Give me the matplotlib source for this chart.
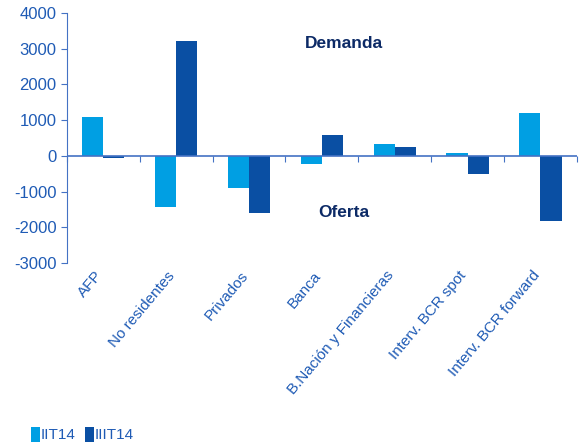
import numpy as np
import matplotlib.pyplot as plt
from matplotlib.transforms import ScaledTranslation

plt.rcParams['font.family'] = ['Liberation Sans', 'DejaVu Sans']
plt.rcParams['axes.unicode_minus'] = False

# Flujos cambiarios por tipo de agente (millones de US$)
agentes = ['AFP', 'No residentes', 'Privados', 'Banca', 'B.Nación y Financieras',
           'Interv. BCR spot', 'Interv. BCR forward']
iit14 = [1080, -1420, -900, -220, 320, 70, 1210]
iiit14 = [-60, 3220, -1590, 570, 240, -510, -1820]

azul_claro = '#009FE3'
azul_oscuro = '#0A4FA3'
texto = '#1F5BB5'
navy = '#0C2A66'

fig = plt.figure(figsize=(5.81, 4.45), dpi=100)
ax = fig.add_axes([0.115, 0.409, 0.878, 0.562])

x = np.arange(len(agentes))
w = 0.29
ax.bar(x - w / 2, iit14, w, color=azul_claro, label='IIT14')
ax.bar(x + w / 2, iiit14, w, color=azul_oscuro, label='IIIT14')

ax.set_xlim(-0.5, len(agentes) - 0.5)
ax.set_ylim(-3000, 4000)
ax.set_yticks(range(-3000, 4001, 1000))

for s in ['top', 'right', 'bottom']:
    ax.spines[s].set_visible(False)
ax.spines['left'].set_color('#4472C4')
ax.tick_params(axis='y', colors='#4472C4', labelcolor=texto, labelsize=12, length=4)

# eje en cero con marcas entre categorias
ax.axhline(0, color='#4472C4', lw=1.2)
sec = ax.secondary_xaxis(3 / 7)
sec.set_xticks(np.arange(-0.5, len(agentes), 1))
sec.set_xticklabels([])
sec.tick_params(direction='out', length=4, color='#4472C4')
sec.spines['bottom'].set_visible(False)

ax.set_xticks(x)
ax.set_xticklabels(agentes, rotation=50, ha='right', rotation_mode='anchor',
                   color=texto, fontsize=11)
ax.tick_params(axis='x', length=0, pad=4)
shift = ScaledTranslation(-9 / 100, 0, fig.dpi_scale_trans)
for lbl in ax.get_xticklabels():
    lbl.set_transform(lbl.get_transform() + shift)

ax.text(3.3, 3150, 'Demanda', color=navy, fontsize=12.5, fontweight='bold',
        ha='center', va='center')
ax.text(3.3, -1590, 'Oferta', color=navy, fontsize=12.5, fontweight='bold',
        ha='center', va='center')

leg = fig.legend(loc='lower left', bbox_to_anchor=(0.03, -0.025), ncol=2, frameon=False,
                 handlelength=0.55, handleheight=1.1, handletextpad=0.1, columnspacing=0.6,
                 fontsize=11)
for t in leg.get_texts():
    t.set_color(texto)

fig.savefig('out.png', dpi=100)
